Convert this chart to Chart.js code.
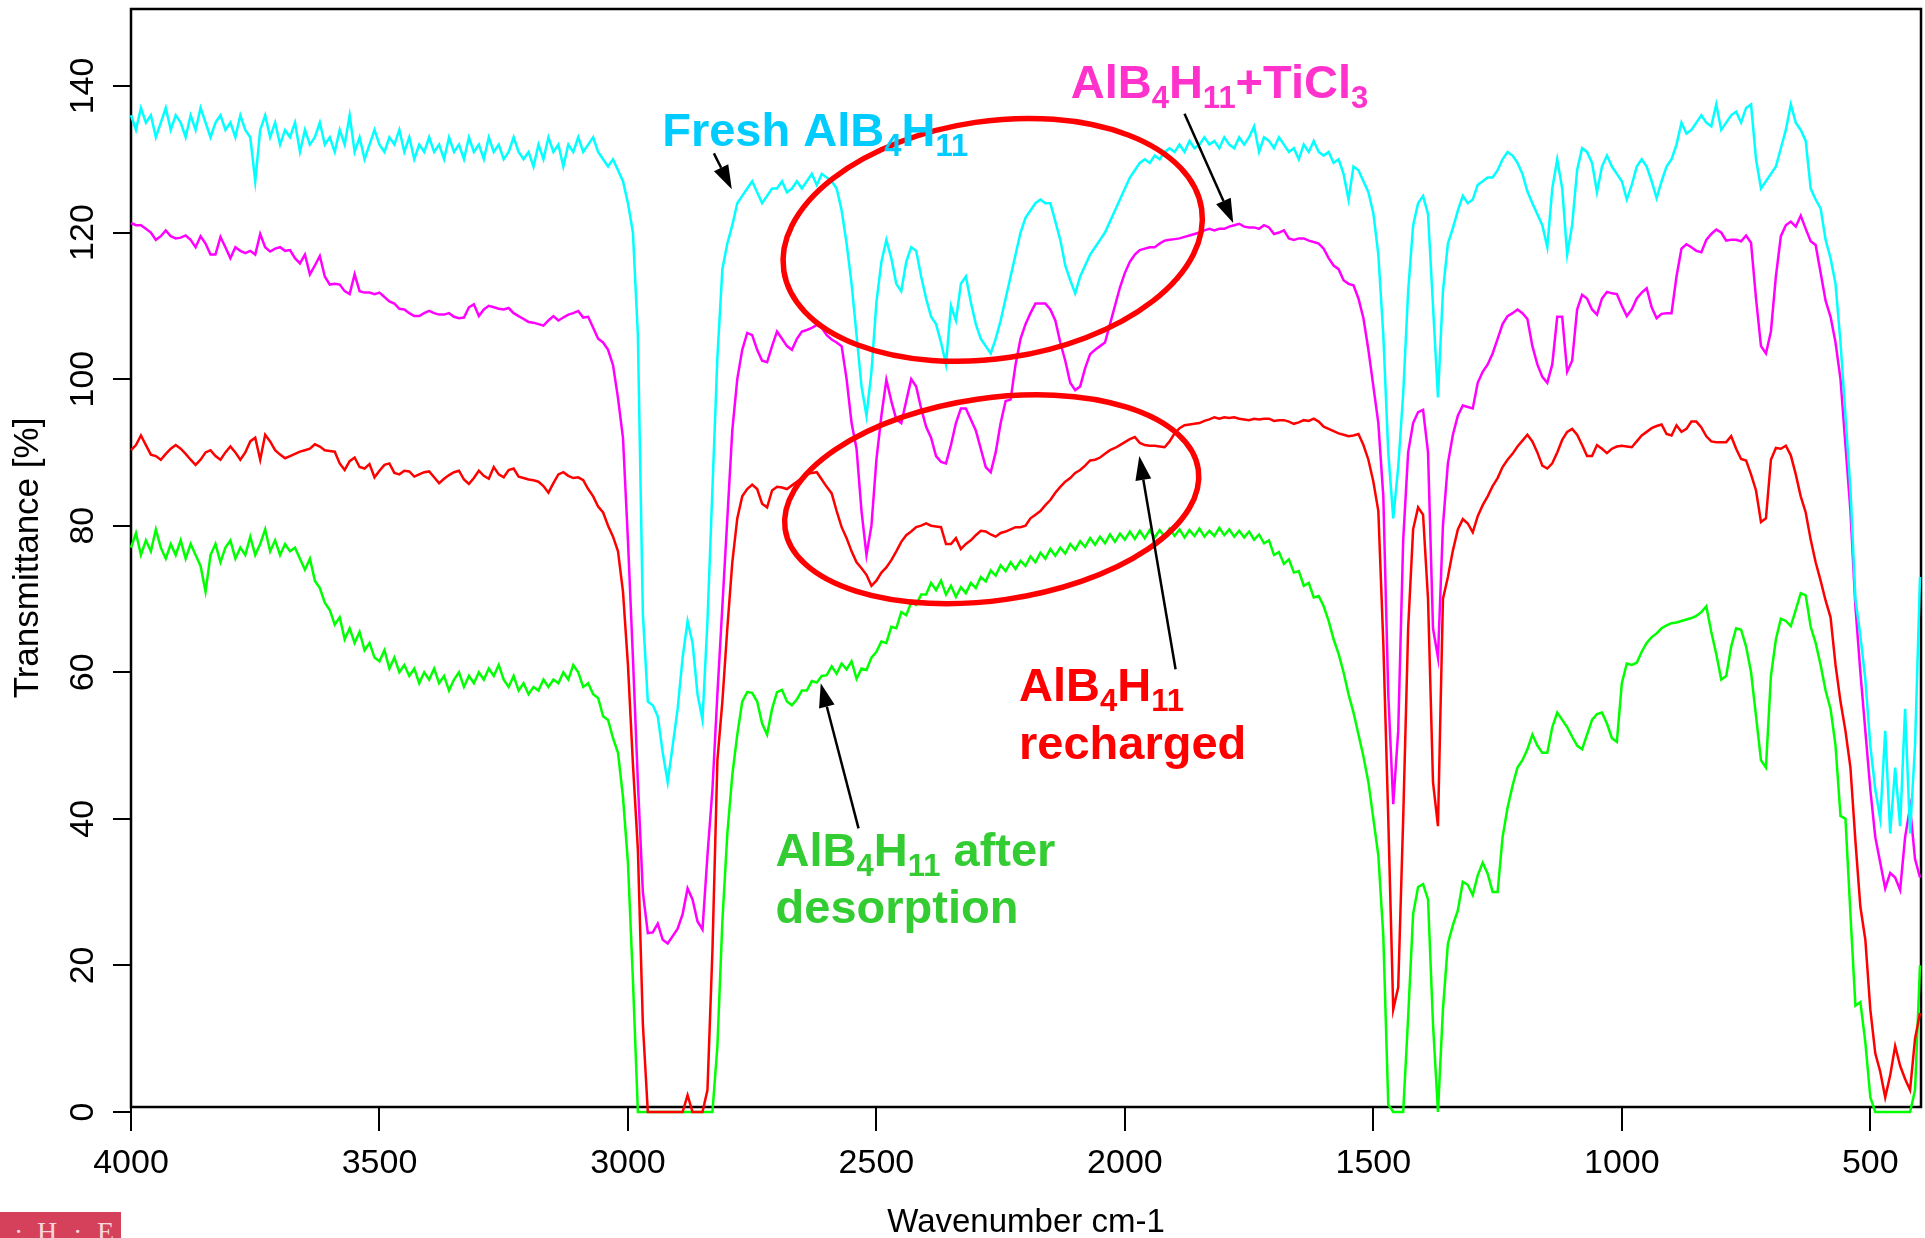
<!DOCTYPE html>
<html>
<head>
<meta charset="utf-8">
<title>IR spectra AlB4H11</title>
<script src="https://cdn.jsdelivr.net/npm/chart.js"></script>
<style>
  body { margin: 0; background: #fff; }
  .wrap { position: relative; width: 1925px; height: 1238px; }
  .logo { position: absolute; left: 0; top: 1212px; width: 121px; height: 26px; background: #d5405a; overflow: hidden;
          color: #f6d6da; font-family: "Liberation Serif", "DejaVu Serif", serif; font-size: 28px; line-height: 28px; }
  .logo span { position: absolute; top: 6px; }
</style>
</head>
<body>
<div class="wrap">
  <canvas id="myChart" width="1925" height="1238"></canvas>
  <div class="logo"><span style="left:14px">·</span><span style="left:37px">H</span><span style="left:73px">·</span><span style="left:97px">E</span></div>
</div>
<script>
// wavenumber grid, cm-1 (4000 -> 400, 10 cm-1 step)
const wavenumbers = [];
for (let w = 4000; w >= 400; w -= 10) wavenumbers.push(w);

// transmittance [%], one row = 100 cm-1
const freshT = [
  136, 134, 137, 135, 136, 133, 135, 137, 134, 136,
  135, 133, 136, 134, 137, 135, 133, 135, 136, 134,
  135, 133, 136, 134, 133, 127, 134, 136, 133, 135,
  132, 134, 133, 135, 131, 134, 132, 133, 135, 132,
  133, 131, 134, 132, 136, 131, 133, 130, 132, 134,
  132, 131, 133, 132, 134, 131, 133, 130, 132, 131,
  133, 131, 132, 130, 133, 131, 132, 130, 133, 131,
  132, 130, 133, 131, 132, 130, 131, 133, 131, 130,
  131, 129, 132, 130, 133, 131, 132, 129, 132, 131,
  133, 131, 132, 133, 131, 130, 129, 130, 128.5, 127,
  124, 120, 106, 68, 56, 55.5, 54, 49, 45, 50,
  55, 62, 67, 64, 57, 53.5, 67, 85, 103, 115,
  118.5, 121, 124, 125, 126, 127, 125.5, 124, 125, 126,
  126, 127, 125.5, 126, 127, 126, 127, 128, 126.5, 128,
  127.5, 127, 126, 123, 118.5, 113, 106, 99, 95, 101,
  110.5, 116, 119, 116.5, 113, 112, 116, 118, 117.5, 114,
  111, 108.5, 107.5, 105, 102, 110, 108, 113, 114, 110.5,
  107.5, 105.5, 104.5, 103.5, 105.5, 108, 111, 114, 117, 120,
  122, 123, 124, 124.5, 124, 124, 121.5, 119, 115.5, 113.5,
  111.7, 114, 115.5, 117, 118, 119, 120, 121.5, 123, 124.5,
  126, 127.5, 128.5, 129.5, 130, 129.5, 130.5, 130, 131, 131.5,
  131, 132, 131, 132.5, 131.5, 132, 133, 132, 132.5, 131.5,
  133, 132, 131.5, 133, 132, 133, 134.5, 131, 133, 132.5,
  131.5, 133, 132, 131, 131.5, 130, 132, 131, 132.5, 131,
  130.5, 131, 129.5, 130, 128, 124.5, 129, 128.5, 127, 125.5,
  122.6, 117, 106, 90, 81, 88, 98, 112, 121, 124,
  125, 122.5, 110, 97.5, 112, 118.5, 120.6, 123, 125, 124,
  124.5, 126.5, 127, 127.5, 127.5, 128.5, 130, 131, 130.5, 129.5,
  128, 125.6, 124, 122.5, 121, 118, 126, 130, 126, 117,
  121, 128.5, 131.5, 131, 129.5, 125.5, 129, 130.5, 129, 128,
  127, 124.5, 126.5, 129, 130, 129, 127, 124.7, 127, 129,
  130, 132, 135, 133.5, 134, 135, 136, 135, 134.5, 137.5,
  134, 135, 136, 136.5, 135, 137, 137.5, 130, 126, 127,
  128, 129, 131.5, 134, 137.5, 135, 134, 132.5, 126, 124.5,
  123.3, 119, 116.5, 113, 105, 95, 85, 70, 65, 59,
  50, 44, 40, 52, 38, 47, 39, 55, 38, 50,
  73
];

const ticl3T = [
  121.3, 121, 121, 120.5, 120, 119, 119.5, 120.3, 119.5, 119.2,
  119.3, 119.6, 119, 118, 119.5, 118.5, 117, 117, 119.4, 118,
  116.5, 118, 117.5, 117.2, 117.5, 117, 119.8, 118, 117.4, 117.8,
  118, 117.5, 117.6, 116.5, 115.8, 117, 114.3, 115.5, 116.8, 114,
  112.9, 113, 112.9, 112, 111.6, 114.3, 112, 111.8, 111.8, 111.6,
  111.8, 111.2, 110.6, 110.3, 109.6, 109.5, 109, 108.6, 108.6, 109,
  109.3, 109, 108.8, 108.8, 109, 108.5, 108.3, 108.4, 109.8, 110.2,
  108.6, 109.5, 110, 109.8, 109.6, 109.5, 109.7, 109, 108.6, 108.2,
  107.8, 107.7, 107.5, 107.3, 108, 108.6, 108, 108.4, 108.8, 109,
  109.3, 108.4, 108.5, 107, 105.5, 105, 104, 101.9, 97.4, 92,
  78, 62, 45, 30, 24.4, 24.5, 25.7, 23.5, 23, 24,
  25, 27, 30.5, 29, 26, 24.9, 35, 44, 57, 69,
  81, 93, 100, 104, 106.3, 106, 104, 102.5, 102.3, 104.5,
  106.5, 105.5, 104.5, 104, 105.5, 106.5, 106.7, 107, 107.4, 107,
  106, 105.4, 105, 104.5, 100, 94, 90.5, 82, 76, 80,
  89, 95, 99.9, 97, 94.5, 94, 97, 100, 99, 96,
  93.5, 92, 89.5, 88.7, 88.5, 91, 94, 96, 96, 94.5,
  93, 90.5, 88, 87.3, 90, 94, 97, 97.2, 102, 105.5,
  107.5, 109, 110.3, 110.3, 110.3, 109.5, 108, 105, 102.5, 99.5,
  98.5, 99, 101.5, 103.4, 104, 104.5, 105, 107.5, 110, 112.5,
  114.5, 116, 117, 117.6, 117.8, 118, 118, 118.5, 118.9, 119,
  119.1, 119.2, 119.4, 119.6, 119.8, 120, 120.3, 120.5, 120.3, 120.5,
  120.5, 120.8, 121, 121.2, 120.8, 120.7, 120.7, 120.5, 121, 120.7,
  119.8, 120, 120.3, 119.2, 119, 119.2, 119.2, 118.9, 118.7, 118.5,
  117.8, 116.5, 115.5, 115, 113.5, 113, 112.8, 111, 108.3, 104,
  99, 94, 84, 57, 42, 52, 78, 90, 94, 95.5,
  95.8, 90, 66, 62, 80, 88.5, 92.4, 95, 96.4, 96.2,
  96, 99.5, 101, 102, 103.5, 105.5, 107.5, 108.6, 109, 109.5,
  109, 108.2, 104.5, 102, 100.3, 99.5, 102, 108.5, 108.5, 101,
  102.5, 109.5, 111.5, 111, 109.5, 108.8, 111, 111.9, 111.7, 111.6,
  110, 108.6, 109.5, 111, 111.8, 112.4, 109.8, 108.3, 108.9, 109,
  109, 114, 117.8, 118.4, 118, 117.5, 117.3, 119, 119.8, 120.4,
  120, 118.9, 119, 119, 118.8, 119.6, 118.6, 111, 104.5, 103.5,
  106.5, 114, 119.5, 121, 121.5, 120.8, 122.3, 120.5, 118.8, 118.3,
  114.5, 110.7, 108.5, 105, 100, 91, 82, 69, 60, 52,
  44, 37.5, 34, 30.5, 32.6, 32, 30.3, 37.5, 41.6, 34.5,
  32
];

const rechargedT = [
  90.3, 91, 92.3, 91, 89.7, 89.5, 89, 89.8, 90.5, 91,
  90.5, 89.8, 89, 88.3, 89, 90, 90.3, 89.5, 89, 90,
  90.8, 90, 89, 90, 91.5, 92, 89, 92.4, 91.5, 90.3,
  89.7, 89.2, 89.5, 89.8, 90.1, 90.3, 90.5, 91.1, 90.8, 90.3,
  90.2, 90.1, 88.5, 87.6, 88.8, 89.3, 88, 87.8, 88.4, 86.6,
  87.5, 88.3, 88.5, 87.2, 87, 87.5, 87.4, 86.7, 87, 87.3,
  87.4, 86.6, 85.8, 86.4, 86.9, 87.3, 87.5, 86.3, 85.7, 86.5,
  87.5, 86.8, 86.4, 88, 87, 86.6, 87.6, 87.8, 86.7, 86.5,
  86.3, 86.2, 86, 85.4, 84.5, 85.8, 87, 87.3, 86.8, 86.5,
  86.6, 86.2, 85, 84, 82.6, 81.8, 80, 78.5, 76.5, 71,
  61, 47.5, 35.8, 12, 0, 0, 0, 0, 0, 0,
  0, 0, 2.3, 0, 0, 0, 3, 22, 48, 56,
  66, 75, 81, 84, 85, 85.6, 85, 83, 82.5, 84.8,
  85.3, 85.2, 85, 85.5, 86, 86.5, 87, 87.2, 87.3, 86.3,
  85.3, 84.4, 82, 79.8, 78.3, 76.5, 75, 74.2, 73.3, 71.8,
  72.5, 73.6, 74.3, 75.3, 76.5, 77.8, 78.7, 79.2, 79.8, 80,
  80.3, 80, 79.9, 79.8, 77.5, 77.5, 78.3, 76.8, 77.5, 78,
  78.7, 79.3, 79.2, 78.8, 78.5, 79, 79.2, 79.5, 79.8, 79.8,
  80, 81, 81.5, 82, 82.8, 83.5, 84.5, 85.3, 86, 86.5,
  87.2, 87.6, 88.2, 88.9, 89, 89.3, 89.8, 90.3, 90.6, 91,
  91.4, 91.8, 92.1, 91.3, 91, 90.9, 90.9, 90.8, 90.7, 91.5,
  92.6, 93.3, 93.7, 93.8, 93.9, 94, 94.3, 94.5, 94.8, 94.6,
  94.8, 94.7, 94.8, 94.6, 94.5, 94.4, 94.6, 94.5, 94.6, 94.6,
  94.3, 94.4, 94.4, 94.2, 93.9, 94.1, 94.4, 94.3, 94.6, 94.2,
  93.5, 93.2, 92.9, 92.6, 92.4, 92.2, 92.3, 92.5, 91, 89,
  86, 82, 64, 40, 14, 17, 40, 66, 79.5, 82.5,
  81.5, 70, 45, 39, 70, 73, 76.6, 79.5, 80.9, 80.3,
  79.1, 81.3, 82.8, 84, 85.4, 86.5, 88, 89, 89.8, 90.8,
  91.6, 92.4, 91.5, 90, 88.2, 87.8, 88.5, 90, 91.7, 92.8,
  93.2, 92.4, 91, 89.5, 89.5, 91, 90.5, 89.9, 90.5, 90.8,
  90.9, 90.8, 90.7, 91.5, 92.3, 92.8, 93.3, 93.6, 93.8, 92.5,
  92.3, 93.7, 92.8, 93.2, 94.2, 94.2, 93.4, 92.2, 91.5, 91.4,
  91.4, 91.4, 92.2, 90.5, 89.1, 88.9, 87, 84.8, 80.5, 81,
  89, 90.6, 90.5, 90.9, 89.6, 87, 84, 81.8, 78.1, 75,
  72.5, 69.8, 67.5, 61, 56, 52, 47, 37, 28, 23.5,
  14, 8, 5.5, 2, 5, 9, 6.3, 4.5, 3, 10,
  13.5
];

const desorbedT = [
  77, 79, 76, 78, 76.5, 79.5, 77, 75.5, 77.5, 76,
  78, 75.5, 77.5, 76, 74.5, 71, 76, 77.5, 75, 77,
  78, 75.5, 77, 76, 78.5, 76, 77.5, 79.5, 76.5, 78,
  76, 77.5, 76.5, 77, 75.5, 74, 75.5, 72.5, 71.5, 69.5,
  68.5, 66.5, 67.5, 64.5, 66, 64, 65.5, 63, 64, 62,
  61.5, 63, 60.5, 62, 60, 61, 59.5, 60.5, 58.5, 60,
  59, 60.5, 58.5, 59.5, 57.5, 59, 60, 58, 59.5, 58.5,
  60, 59, 60.5, 59.5, 61, 59, 58, 59.5, 57.5, 58.5,
  57, 58, 57.5, 59, 58, 59, 58.5, 60, 59, 61,
  60, 58, 58.5, 57, 56.5, 54, 53.5, 51, 49, 43,
  34, 18, 0, 0, 0, 0, 0, 0, 0, 0,
  0, 0, 0, 0, 0, 0, 0, 0, 9, 26,
  38, 46, 51.5, 56, 57.3, 57.2, 56, 53, 51.5, 55,
  57.3, 57.6, 56, 55.5, 56.3, 57.5, 57.5, 58.8, 58.6, 59.5,
  59.6, 60.8, 59.8, 61.2, 60.4, 61.5, 59.1, 60.5, 60.3, 62,
  62.8, 64.2, 64, 66.2, 66, 68.2, 67.8, 69.5, 69.2, 70.6,
  70.6, 72.2, 71.2, 72.5, 70.6, 71.8, 70.3, 71.6, 70.8, 72.2,
  71.5, 73, 72.4, 73.9, 73.2, 74.6, 73.8, 75, 74.1, 75.2,
  74.5, 75.8, 75, 76.3, 75.5, 76.8, 75.9, 77, 76.2, 77.5,
  76.7, 77.9, 77.1, 78.3, 77.4, 78.5, 77.6, 78.8, 77.8, 78.9,
  78.1, 79.2, 78.2, 79.3, 78.3, 79.4, 78.4, 79.4, 78.5, 79.6,
  78.6, 79.5, 78.4, 79.4, 78.6, 79.6, 78.5, 79.3, 78.6, 79.7,
  78.7, 79.5, 78.5, 79.3, 78.4, 79.2, 78.1, 78.8, 77.6, 78,
  76, 76.4, 74.8, 75.4, 73.6, 73.8, 71.8, 72.2, 70.2, 70.4,
  69, 67, 64.5, 62.5, 60, 57, 54.5, 51.5, 48.5, 45,
  40, 35, 24, 1, 0, 0, 0, 13, 27, 30.7,
  31.1, 29, 12, 0, 14, 23, 25.5, 27.5, 31.4, 31,
  29.6, 32.3, 34, 32.5, 30, 30, 37.5, 41.5, 44.5, 47,
  48, 49.5, 51.5, 50, 49, 49, 52.5, 54.5, 53.5, 52.5,
  51.2, 50, 49.5, 51.5, 53.5, 54.3, 54.5, 53, 51, 50.5,
  58.5, 61.2, 61, 61.3, 62.8, 64, 64.8, 65.3, 66, 66.4,
  66.7, 66.8, 67, 67.2, 67.4, 67.7, 68.2, 69, 65.5, 62.5,
  59, 59.5, 63.5, 66, 65.8, 63.5, 60, 54, 48, 47,
  59.5, 64.5, 67.3, 67, 66.3, 68.5, 70.8, 70.5, 66.2, 64,
  61, 57.5, 55, 50, 40.4, 40, 27, 14.5, 15, 9.5,
  2, 0, 0, 0, 0, 0, 0, 0, 0, 3,
  20
];

const seriesNames = ['Fresh AlB4H11', 'AlB4H11+TiCl3', 'AlB4H11 recharged', 'AlB4H11 after desorption'];
const xTicks = [4000, 3500, 3000, 2500, 2000, 1500, 1000, 500];
const yTicks = [0, 20, 40, 60, 80, 100, 120, 140];

const FONT = '"Liberation Sans", Arial, sans-serif';

// annotations, placed in data units (wavenumber, transmittance)
const labels = [
  { color: '#00CCFF', wn: 2931, t: 131.8, runs: [['Fresh AlB', 0], ['4', 1], ['H', 0], ['11', 1]] },
  { color: '#FF33CC', wn: 2109, t: 138.3, runs: [['AlB', 0], ['4', 1], ['H', 0], ['11', 1], ['+TiCl', 0], ['3', 1]] },
  { color: '#FF0000', wn: 2213, t: 56.1, runs: [['AlB', 0], ['4', 1], ['H', 0], ['11', 1]] },
  { color: '#FF0000', wn: 2213, t: 48.2, runs: [['recharged', 0]] },
  { color: '#33CC33', wn: 2703, t: 33.6, runs: [['AlB', 0], ['4', 1], ['H', 0], ['11', 1], [' after', 0]] },
  { color: '#33CC33', wn: 2703, t: 25.8, runs: [['desorption', 0]] }
];
const arrows = [
  { from: [2827, 130.8], to: [2791, 125.9] },
  { from: [1880, 136.2], to: [1782, 121.3] },
  { from: [1898, 60.4], to: [1971, 89.5] },
  { from: [2536, 38.7], to: [2612, 58.5] }
];
const ellipses = [
  { wn: 2266, t: 119.0, aWn: 425, bT: 16.2, rot: -8.4 },
  { wn: 2268, t: 83.6, aWn: 420, bT: 13.8, rot: -8.2 }
];

function drawRuns(ctx, x, y, runs, color) {
  ctx.fillStyle = color;
  ctx.textAlign = 'left';
  ctx.textBaseline = 'alphabetic';
  runs.forEach(function (r) {
    var sub = r[1] === 1;
    ctx.font = 'bold ' + (sub ? 31 : 47) + 'px ' + FONT;
    ctx.fillText(r[0], x, sub ? y + 10 : y);
    x += ctx.measureText(r[0]).width;
  });
}

function drawArrow(ctx, x1, y1, x2, y2) {
  var ang = Math.atan2(y2 - y1, x2 - x1);
  var head = 24, half = 8;
  var bx = x2 - head * Math.cos(ang), by = y2 - head * Math.sin(ang);
  ctx.strokeStyle = '#000';
  ctx.fillStyle = '#000';
  ctx.lineWidth = 2.5;
  ctx.beginPath();
  ctx.moveTo(x1, y1);
  ctx.lineTo(bx, by);
  ctx.stroke();
  ctx.beginPath();
  ctx.moveTo(x2, y2);
  ctx.lineTo(bx + half * Math.sin(ang), by - half * Math.cos(ang));
  ctx.lineTo(bx - half * Math.sin(ang), by + half * Math.cos(ang));
  ctx.closePath();
  ctx.fill();
}

const notesPlugin = {
  id: 'notes',
  beforeDatasetsDraw(chart) {
    // plot frame, under the spectra so the zero lines stay visible
    const ctx = chart.ctx, area = chart.chartArea;
    ctx.save();
    ctx.strokeStyle = '#000';
    ctx.lineWidth = 2.5;
    ctx.strokeRect(area.left, area.top, area.right - area.left, area.bottom - area.top);
    ctx.restore();
  },
  afterDatasetsDraw(chart) {
    const ctx = chart.ctx;
    const xs = chart.scales.x, ys = chart.scales.y;
    ctx.save();

    // red ellipses
    ellipses.forEach(function (e) {
      var cx = xs.getPixelForValue(e.wn), cy = ys.getPixelForValue(e.t);
      var a = Math.abs(xs.getPixelForValue(e.wn - e.aWn) - cx);
      var b = Math.abs(ys.getPixelForValue(e.t + e.bT) - cy);
      ctx.beginPath();
      ctx.ellipse(cx, cy, a, b, e.rot * Math.PI / 180, 0, Math.PI * 2);
      ctx.strokeStyle = '#FF0000';
      ctx.lineWidth = 5.5;
      ctx.stroke();
    });

    arrows.forEach(function (a) {
      drawArrow(ctx, xs.getPixelForValue(a.from[0]), ys.getPixelForValue(a.from[1]),
        xs.getPixelForValue(a.to[0]), ys.getPixelForValue(a.to[1]));
    });

    labels.forEach(function (l) {
      drawRuns(ctx, xs.getPixelForValue(l.wn), ys.getPixelForValue(l.t), l.runs, l.color);
    });

    // y tick labels, rotated like the original
    ctx.fillStyle = '#000';
    ctx.font = '34px ' + FONT;
    ctx.textAlign = 'center';
    ctx.textBaseline = 'middle';
    yTicks.forEach(function (v) {
      ctx.save();
      ctx.translate(84, ys.getPixelForValue(v));
      ctx.rotate(-Math.PI / 2);
      ctx.fillText(String(v), 0, 0);
      ctx.restore();
    });
    ctx.restore();
  }
};

const colors = ['#00FFFF', '#FF00FF', '#FF0000', '#00FF00'];
const values = [freshT, ticl3T, rechargedT, desorbedT];

const chart = new Chart(document.getElementById('myChart'), {
  type: 'line',
  data: {
    labels: wavenumbers,
    datasets: values.map(function (v, i) {
      return {
        label: seriesNames[i],
        data: v,
        borderColor: colors[i],
        backgroundColor: colors[i],
        borderWidth: 2.5,
        pointRadius: 0,
        tension: 0,
        fill: false,
        clip: false
      };
    })
  },
  options: {
    responsive: false,
    animation: false,
    devicePixelRatio: 1,
    layout: { padding: { top: 9, right: 4, bottom: 0, left: 0 } },
    plugins: {
      legend: { display: false },
      tooltip: { enabled: false }
    },
    scales: {
      x: {
        type: 'linear',
        reverse: true,
        min: 398,
        max: 4000,
        afterBuildTicks: function (s) { s.ticks = xTicks.map(function (v) { return { value: v }; }); },
        afterFit: function (s) { s.height = 131; },
        grid: { drawOnChartArea: false, drawTicks: true, tickLength: 24, color: '#000', lineWidth: 2 },
        border: { display: false },
        ticks: {
          color: '#000', padding: 12, maxRotation: 0, font: { family: FONT, size: 34 },
          callback: function (v) { return String(v); }
        },
        title: { display: true, text: 'Wavenumber cm-1', color: '#000', padding: { top: 0, bottom: -5 }, font: { family: FONT, size: 33 } }
      },
      y: {
        min: 0.68,
        max: 150.5,
        afterBuildTicks: function (s) { s.ticks = yTicks.map(function (v) { return { value: v }; }); },
        afterFit: function (s) { s.width = 131; },
        grid: { drawOnChartArea: false, drawTicks: true, tickLength: 18, color: '#000', lineWidth: 2 },
        border: { display: false },
        ticks: { display: false },
        title: { display: true, text: 'Transmittance [%]', color: '#000', padding: { top: 7, bottom: 7 }, font: { family: FONT, size: 35 } }
      }
    }
  },
  plugins: [notesPlugin]
});
</script>
</body>
</html>
